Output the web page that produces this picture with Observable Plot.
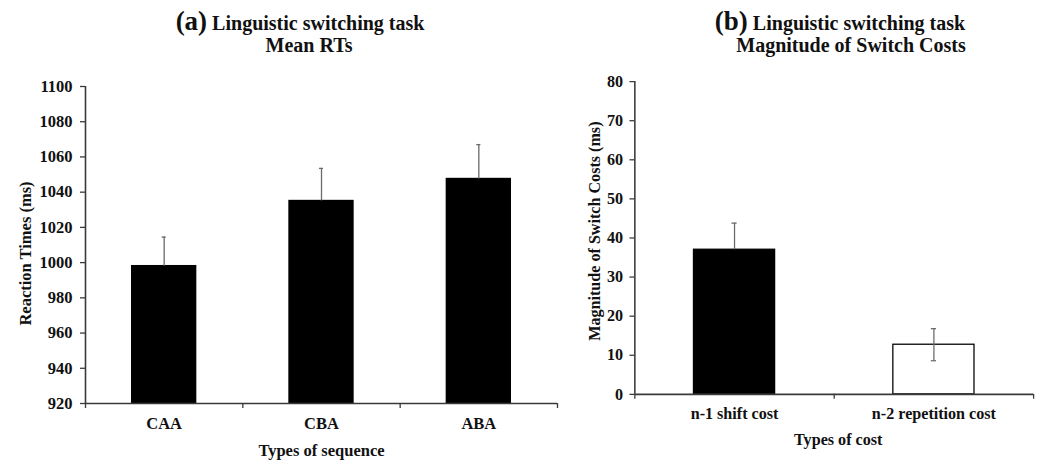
<!DOCTYPE html>
<html>
<head>
<meta charset="utf-8">
<script src="https://cdn.jsdelivr.net/npm/d3@7"></script>
<script src="https://cdn.jsdelivr.net/npm/@observablehq/plot@0.6"></script>
<style>
  html, body { margin: 0; padding: 0; background: #fff; }
  body { width: 1038px; height: 466px; overflow: hidden; position: relative; font-family: "Liberation Serif", "Times New Roman", serif; }
  .panel { position: absolute; top: 0; }
  .panel svg text { font-family: "Liberation Serif", "Times New Roman", serif; font-weight: bold; }
  .title { position: absolute; font-weight: bold; color: #111; white-space: nowrap; transform: translateX(-50%); text-align: center; line-height: 1; font-size: 20px; }
  .title span { line-height: 1; }
  .title .big { font-size: 27px; }
</style>
</head>
<body>
<div class="title" style="left:300px; top:8px;"><span class="big">(a)</span> Linguistic switching task</div>
<div class="title" style="left:309px; top:35px;">Mean RTs</div>
<div class="title" style="left:840px; top:8px;"><span class="big">(b)</span> Linguistic switching task</div>
<div class="title" style="left:851px; top:35px;">Magnitude of Switch Costs</div>
<div id="a" class="panel" style="left:0px;"></div>
<div id="b" class="panel" style="left:520px;"></div>
<script>
// ---- Panel (a) data ----
const seqCategories = ["CAA", "CBA", "ABA"];
const seqMeans = [998, 1035, 1047.5];
const seqErrors = [16.5, 18.5, 19.5];
const seqTicks = [920, 940, 960, 980, 1000, 1020, 1040, 1060, 1080, 1100];

// ---- Panel (b) data ----
const costCategories = ["n-1 shift cost", "n-2 repetition cost"];
const costMeans = [37, 12.7];
const costErrors = [6.8, 4.1];
const costFills = ["black", "white"];
const costTicks = [0, 10, 20, 30, 40, 50, 60, 70, 80];

const FONT = "Liberation Serif, Times New Roman, serif";
const AXIS = "#3a3a3a";
const ERR = "#6a6a6a";
const HALF = 0.2035;   // half bar width as share of a category band
const CAP = 0.013;     // half error-cap width as share of a category band
const FS = 16.5;

function panel({cats, means, errs, fills, ticks, domain, width, marginLeft, marginRight, marginTop, tickPadding, yLabel, xLabel, yLabelX, yLabelY, xLabelX}) {
  const data = cats.map((c, i) => ({c, i, v: means[i], e: errs[i], fill: fills ? fills[i] : "black"}));
  const n = cats.length;
  const txt = {fontFamily: FONT, fontSize: FS, fontWeight: "bold", fill: "#111"};
  return Plot.plot({
    width, height: 466,
    marginLeft, marginRight, marginTop, marginBottom: 63,
    style: {background: "transparent", fontFamily: FONT, fontWeight: "bold", fontSize: FS + "px", color: "#111", overflow: "visible"},
    x: {domain: [0, n], axis: null},
    y: {domain, axis: null},
    marks: [
      // bars
      Plot.rectY(data, {x1: d => d.i + 0.5 - HALF, x2: d => d.i + 0.5 + HALF, y1: domain[0], y2: "v", fill: "fill", stroke: "black", strokeWidth: 1.3}),
      // error bars (lower half hidden inside black bars)
      Plot.ruleX(data, {x: d => d.i + 0.5, y1: d => d.fill === "black" ? d.v : d.v - d.e, y2: d => d.v + d.e, stroke: ERR, strokeWidth: 1.3}),
      Plot.ruleY(data, {y: d => d.v + d.e, x1: d => d.i + 0.5 - CAP, x2: d => d.i + 0.5 + CAP, stroke: ERR, strokeWidth: 1.3}),
      Plot.ruleY(data.filter(d => d.fill !== "black"), {y: d => d.v - d.e, x1: d => d.i + 0.5 - CAP, x2: d => d.i + 0.5 + CAP, stroke: ERR, strokeWidth: 1.3}),
      // axis lines
      Plot.ruleX([0], {y1: domain[0], y2: domain[1], stroke: AXIS, strokeWidth: 1.6}),
      Plot.ruleY([domain[0]], {x1: 0, x2: n, stroke: AXIS, strokeWidth: 1.6}),
      // y ticks and labels
      Plot.axisY({ticks, tickSize: 5, tickPadding, tickFormat: d => String(d), stroke: AXIS, strokeWidth: 1.3, label: null, ...txt}),
      // x boundary ticks
      Plot.axisX({ticks: d3.range(n + 1), tickSize: 5, tickFormat: () => "", stroke: AXIS, strokeWidth: 1.3, label: null}),
      // category labels
      Plot.text(data, {x: d => d.i + 0.5, y: domain[0], text: "c", dy: 20, ...txt}),
      // axis titles
      Plot.text([xLabel], {x: xLabelX, y: domain[0], dy: 47, text: d => d, ...txt}),
      Plot.text([yLabel], {frameAnchor: "top-left", textAnchor: "middle", dx: yLabelX - marginLeft, dy: yLabelY - marginTop, text: d => d, rotate: -90, ...txt})
    ]
  });
}

document.getElementById("a").append(panel({
  cats: seqCategories, means: seqMeans, errs: seqErrors, ticks: seqTicks,
  domain: [920, 1100], width: 580, marginLeft: 85, marginRight: 23, marginTop: 86, tickPadding: 8,
  yLabel: "Reaction Times (ms)", xLabel: "Types of sequence",
  yLabelX: 19, yLabelY: 253, xLabelX: 1.5
}));

document.getElementById("b").append(panel({
  cats: costCategories, means: costMeans, errs: costErrors, fills: costFills, ticks: costTicks,
  domain: [0, 80], width: 530, marginLeft: 117, marginRight: 5, marginTop: 83, tickPadding: 7,
  yLabel: "Magnitude of Switch Costs (ms)", xLabel: "Types of cost",
  yLabelX: 70, yLabelY: 236, xLabelX: 1.02
}));
</script>
</body>
</html>
